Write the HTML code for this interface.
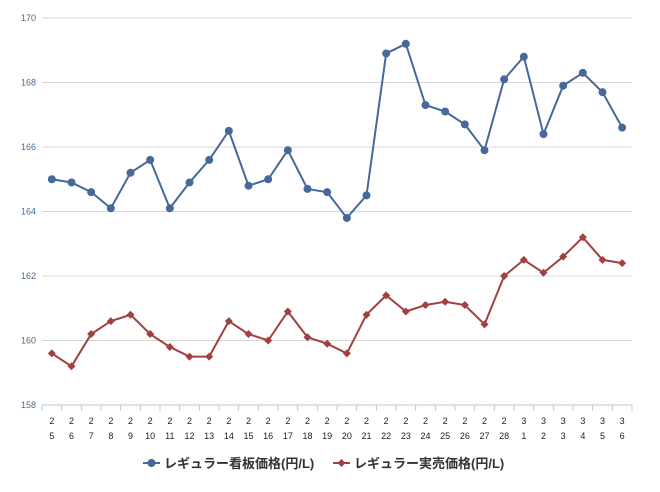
<!DOCTYPE html>
<html><head><meta charset="utf-8"><style>
body{margin:0;background:#fff;}
svg text{font-family:"Liberation Sans","Noto Sans CJK JP",sans-serif;}
</style></head><body>
<svg id="chart" width="660" height="487" xmlns="http://www.w3.org/2000/svg"></svg>
<script>
const months=["2","2","2","2","2","2","2","2","2","2","2","2","2","2","2","2","2","2","2","2","2","2","2","2","3","3","3","3","3","3"];
const days=["5","6","7","8","9","10","11","12","13","14","15","16","17","18","19","20","21","22","23","24","25","26","27","28","1","2","3","4","5","6"];
const signPrice=[165.0,164.9,164.6,164.1,165.2,165.6,164.1,164.9,165.6,166.5,164.8,165.0,165.9,164.7,164.6,163.8,164.5,168.9,169.2,167.3,167.1,166.7,165.9,168.1,168.8,166.4,167.9,168.3,167.7,166.6];
const realPrice=[159.6,159.2,160.2,160.6,160.8,160.2,159.8,159.5,159.5,160.6,160.2,160.0,160.9,160.1,159.9,159.6,160.8,161.4,160.9,161.1,161.2,161.1,160.5,162.0,162.5,162.1,162.6,163.2,162.5,162.4];
const yTicks=[158,160,162,164,166,168,170];

const svg=document.getElementById('chart');
const NS="http://www.w3.org/2000/svg";
const L=42,R=632,T=18,B=405,yMin=158,yMax=170;
const n=days.length, step=(R-L)/n;
const xs=i=>L+step*(i+0.5);
const ys=v=>B-(v-yMin)/(yMax-yMin)*(B-T);
function mk(tag,attrs,parent){const e=document.createElementNS(NS,tag);for(const k in attrs)e.setAttribute(k,attrs[k]);(parent||svg).appendChild(e);return e;}

yTicks.forEach(t=>{
  const g=mk('line',{x1:L,x2:R,y1:ys(t),y2:ys(t),stroke:t===yMin?'#c0c8d4':'#d8d8d8','stroke-width':1});
  
  
  const tx=mk('text',{x:36,y:ys(t)+3,'text-anchor':'end','font-size':9,fill:'#4a6a8a'});
  tx.textContent=t;
  
  
});
for(let i=0;i<=n;i++){
  const tk=mk('line',{x1:L+step*i,x2:L+step*i,y1:B,y2:B+6,stroke:'#c0c8d4'});
  
  
}
days.forEach((d,i)=>{
  const a=mk('text',{x:xs(i),y:424,'text-anchor':'middle','font-size':9,fill:'#222'});
  a.textContent=months[i];
  
  
  const b=mk('text',{x:xs(i),y:439,'text-anchor':'middle','font-size':9,fill:'#222'});
  b.textContent=days[i];
  
  
});
function series(vals,color,marker,name){
  const p=mk('polyline',{points:vals.map((v,i)=>xs(i)+','+ys(v)).join(' '),fill:'none',stroke:color,'stroke-width':2});
  
  
  vals.forEach((v,i)=>{
    let m;
    if(marker==='circle') m=mk('circle',{cx:xs(i),cy:ys(v),r:4,fill:color});
    else {const x=xs(i),y=ys(v);m=mk('polygon',{points:`${x},${y-4} ${x+4},${y} ${x},${y+4} ${x-4},${y}`,fill:color});}
    
    
  });
}
series(signPrice,'#46699a','circle','sign-price');
series(realPrice,'#a0403f','diamond','real-price');

// legend
const lg=mk('g',{});


mk('line',{x1:143,x2:160,y1:463,y2:463,stroke:'#46699a','stroke-width':2},lg);
mk('circle',{cx:151.5,cy:463,r:4,fill:'#46699a'},lg);
const t1=mk('text',{x:164,y:468,'font-size':13,'font-weight':'bold',fill:'#333'},lg);
t1.textContent='レギュラー看板価格(円/L)';


mk('line',{x1:333,x2:350,y1:463,y2:463,stroke:'#a0403f','stroke-width':2},lg);
mk('polygon',{points:'341.5,459 345.5,463 341.5,467 337.5,463',fill:'#a0403f'},lg);
const t2=mk('text',{x:354,y:468,'font-size':13,'font-weight':'bold',fill:'#333'},lg);
t2.textContent='レギュラー実売価格(円/L)';


</script>
</body></html>
